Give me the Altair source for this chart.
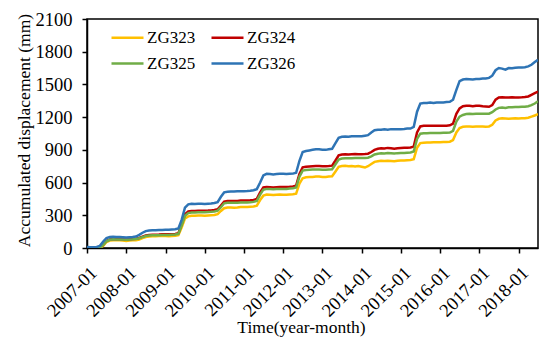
import altair as alt
import pandas as pd

# Monthly observations, 2007-01 .. 2018-07
months = pd.date_range("2007-01-01", "2018-07-01", freq="MS").strftime("%Y/%m/%d").tolist()

series_names = ["ZG323", "ZG324", "ZG325", "ZG326"]
series_colors = ["#FFC000", "#C00000", "#70AD47", "#2E74B5"]

zg323 = [
    0, -1, -3, -4, -2, 20, 55, 68, 72, 70, 70, 68,
    65, 68, 70, 72, 78, 90, 100, 105, 108, 108, 110, 110,
    110, 108, 110, 112, 118, 190, 270, 290, 295, 295, 298, 298,
    296, 298, 300, 302, 310, 340, 365, 372, 372, 370, 372, 375,
    375, 375, 378, 380, 388, 440, 480, 490, 488, 485, 488, 490,
    488, 488, 490, 492, 498, 590, 640, 648, 650, 652, 655, 655,
    652, 652, 655, 658, 700, 745, 752, 755, 750, 752, 748, 752,
    745, 738, 750, 770, 790, 795, 800, 798, 800, 798, 795, 800,
    802, 802, 805, 808, 815, 920, 962, 966, 968, 968, 970, 970,
    970, 972, 972, 975, 990, 1060, 1100, 1112, 1115, 1115, 1112, 1115,
    1115, 1115, 1112, 1115, 1130, 1170, 1185, 1190, 1188, 1185, 1188, 1190,
    1188, 1190, 1190, 1195, 1205, 1215, 1228,
]
zg324 = [
    0, 0, -2, -3, 0, 30, 65, 78, 82, 80, 80, 80,
    78, 80, 82, 85, 92, 105, 115, 120, 122, 122, 123, 125,
    125, 125, 126, 128, 135, 220, 310, 335, 340, 340, 342, 342,
    342, 343, 345, 348, 355, 390, 425, 432, 432, 430, 432, 435,
    435, 435, 437, 440, 450, 510, 555, 560, 558, 555, 558, 560,
    560, 560, 562, 565, 572, 680, 740, 745, 748, 750, 752, 752,
    750, 750, 752, 755, 800, 850, 858, 860, 858, 860, 862, 860,
    860, 862, 865, 880, 900, 910, 915, 912, 918, 915, 910, 915,
    918, 920, 920, 922, 930, 1060, 1115, 1120, 1120, 1120, 1122, 1120,
    1120, 1122, 1122, 1125, 1140, 1230, 1280, 1300, 1305, 1305, 1300, 1305,
    1305, 1300, 1298, 1295, 1310, 1360, 1380, 1382, 1380, 1380, 1382, 1380,
    1380, 1382, 1385, 1390, 1405, 1420, 1435,
]
zg325 = [
    0, 0, -1, -2, 0, 28, 62, 75, 80, 78, 78, 78,
    76, 78, 80, 83, 90, 100, 110, 115, 117, 118, 118, 120,
    120, 120, 122, 124, 130, 210, 295, 320, 325, 325, 327, 328,
    328, 330, 332, 335, 342, 375, 410, 415, 415, 414, 416, 418,
    418, 418, 420, 423, 432, 490, 535, 542, 540, 538, 540, 542,
    542, 542, 545, 548, 555, 655, 710, 715, 718, 720, 720, 720,
    718, 718, 720, 722, 765, 810, 820, 822, 822, 824, 825, 825,
    825, 826, 828, 840, 858, 865, 868, 866, 870, 868, 866, 870,
    872, 872, 874, 876, 885, 1000, 1048, 1052, 1052, 1054, 1055, 1055,
    1055, 1056, 1056, 1058, 1075, 1160, 1205, 1220, 1228, 1230, 1228, 1230,
    1230, 1232, 1230, 1232, 1245, 1270, 1285, 1288, 1285, 1290, 1290, 1292,
    1292, 1295, 1295, 1300, 1310, 1325, 1345,
]
zg326 = [
    10, 8, 8, 10, 20, 60, 90, 100, 102, 100, 100, 98,
    96, 98, 100, 105, 120, 140, 155, 160, 162, 163, 165, 165,
    168, 168, 170, 172, 180, 260, 370, 400, 405, 403, 405, 405,
    404, 406, 408, 412, 420, 470, 510, 515, 518, 518, 520, 520,
    520, 522, 525, 530, 540, 600, 665, 680, 678, 675, 678, 680,
    680, 678, 680, 682, 690, 800, 880, 890, 895, 900, 905, 905,
    902, 900, 905, 910, 960, 1010, 1020, 1022, 1020, 1025, 1025, 1025,
    1025, 1030, 1035, 1060, 1080, 1085, 1085, 1088, 1085, 1090, 1088, 1090,
    1090, 1092, 1095, 1095, 1110, 1250, 1325, 1330, 1330, 1335, 1330, 1335,
    1335, 1335, 1338, 1340, 1360, 1450, 1530, 1545, 1550, 1548, 1545, 1550,
    1550, 1555, 1555, 1560, 1580, 1630, 1650, 1645, 1635, 1650, 1648, 1652,
    1655, 1655, 1658, 1665, 1680, 1705, 1725,
]

y_ticks = [0, 300, 600, 900, 1200, 1500, 1800, 2100]
x_tick_years = list(range(2007, 2019))

rows = []
for name, vals in zip(series_names, [zg323, zg324, zg325, zg326]):
    for d, v in zip(months, vals):
        rows.append({"date": d, "value": v, "series": name})
df = pd.DataFrame(rows)

FONT = "'Liberation Serif', 'Times New Roman', serif"
axis_style = dict(
    grid=False, domainColor="black", domainWidth=1.5, tickColor="black",
    tickWidth=1.5, tickSize=5,
    labelFont=FONT, labelFontSize=18.5, labelColor="black",
    titleFont=FONT, titleFontSize=17.5, titleColor="black", titleFontWeight="normal",
)

chart = alt.Chart(df).mark_line(strokeWidth=2.5, clip=True).encode(
    x=alt.X(
        "date:T",
        scale=alt.Scale(domain=[alt.DateTime(year=2007, month=1, date=1),
                                alt.DateTime(year=2018, month=7, date=1)]),
        axis=alt.Axis(
            title="Time(year-month)",
            values=[alt.DateTime(year=y, month=1, date=1) for y in x_tick_years],
            labelExpr="timeFormat(datum.value, '%Y-%m')",
            labelAngle=-45, labelAlign="right", labelBaseline="top",
            labelOverlap=False, labelFlush=False,
            labelPadding=10, titlePadding=-1, titleX=214,
            **axis_style,
        ),
    ),
    y=alt.Y(
        "value:Q",
        scale=alt.Scale(domain=[0, 2100], nice=False),
        axis=alt.Axis(title="Accumulated displacement (mm)", values=y_ticks,
                      format="d", labelPadding=10, titlePadding=2, titleY=111,
                      **axis_style),
    ),
    color=alt.Color(
        "series:N",
        scale=alt.Scale(domain=series_names, range=series_colors),
        legend=alt.Legend(
            title=None, orient="none", legendX=23, legendY=1, columns=2,
            direction="horizontal",
            symbolType="stroke", symbolSize=1024, symbolStrokeWidth=2.5,
            labelFont=FONT, labelFontSize=17, labelColor="black",
            columnPadding=10, rowPadding=-12, labelOffset=2, padding=0,
        ),
    ),
).properties(
    width=451, height=229,
    autosize=alt.AutoSizeParams(type="none"),
    padding={"left": 79, "top": 11, "right": 4, "bottom": 96},
).configure_view(
    stroke="black", strokeWidth=1.5
)

chart.save("out.html", embed_options={"renderer": "svg", "actions": False})
